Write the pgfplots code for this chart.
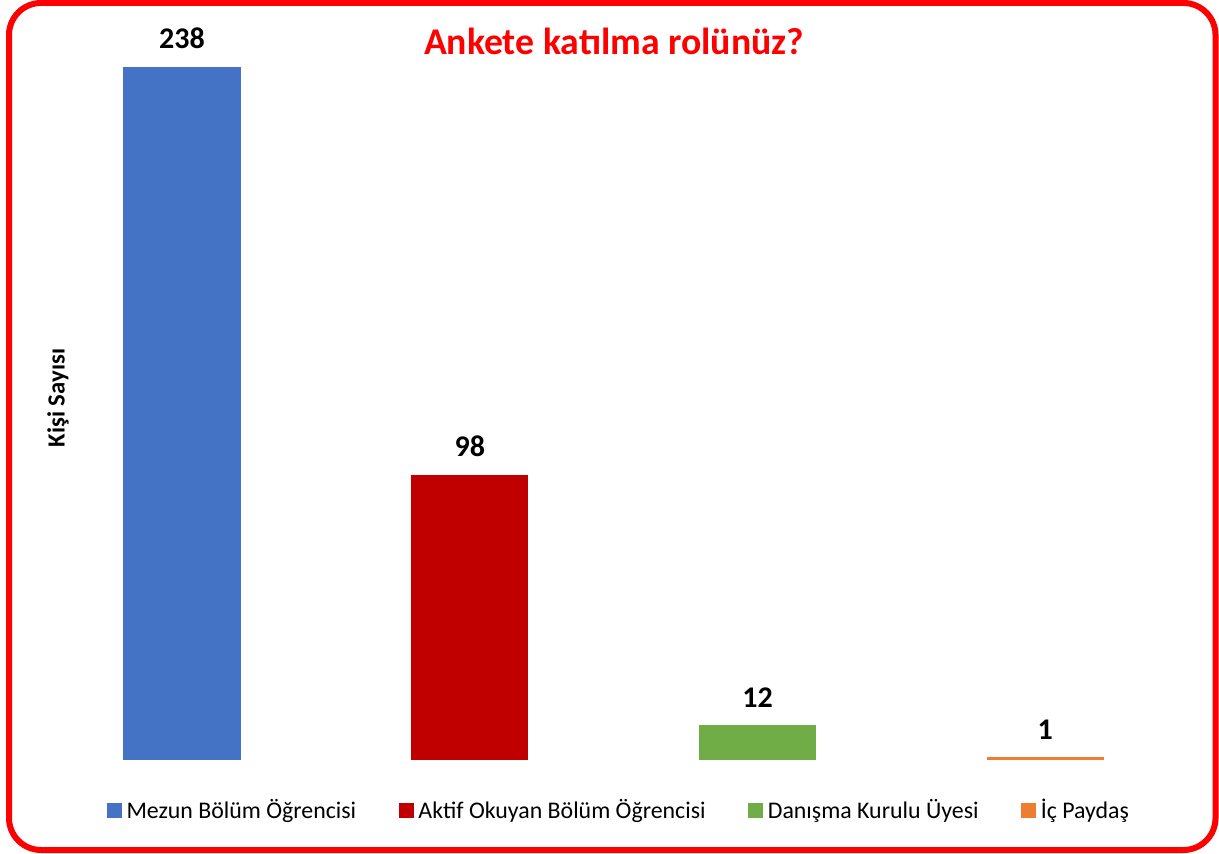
\documentclass[border=0pt]{standalone}
\usepackage{pgfplots}
\pgfplotsset{compat=1.18}
\usepackage{fontspec}
\setmainfont{Carlito}
\definecolor{cblue}{HTML}{4472C4}
\definecolor{cred}{HTML}{C00000}
\definecolor{cgreen}{HTML}{70AD47}
\definecolor{corange}{HTML}{ED7D31}
\definecolor{bred}{HTML}{FF0000}
\begin{document}
\begin{tikzpicture}[x=0.75pt,y=0.75pt]
\useasboundingbox (0,0) rectangle (1219,853);
\draw[bred, line width=4.5pt, rounded corners=24pt] (9,3) rectangle (1215.5,850);
\node[text=bred, font=\fontsize{28.3}{33}\selectfont\bfseries, anchor=base] at (614,798) {Ankete katılma rolünüz?};
\begin{axis}[
  at={(17.824pt,69.75pt)}, anchor=south west,
  scale only axis,
  x=215.8pt, y=2.184pt,
  xmin=-0.55, xmax=3.55, ymin=0, ymax=245,
  axis line style={draw=none},
  ticks=none,
  /pgf/number format/assume math mode=true,
  ybar=0pt, bar shift=0pt, bar width=0.407,
  clip=false,
  nodes near coords,
  every node near coord/.append style={font=\fontsize{22.5}{26}\selectfont\bfseries, text=black, inner sep=0pt, anchor=base, yshift=13.5pt},
  ylabel={Kişi Sayısı},
  ylabel style={at={(axis cs:-0.431,124.3)}, anchor=center, font=\fontsize{18.5}{22}\selectfont\bfseries},
  legend columns=4,
  legend style={draw=none, fill=none, at={(axis cs:1.515,-17.2)}, anchor=center,
    font=\fontsize{17.9}{21}\selectfont,
    nodes={inner sep=0pt},
    /tikz/every odd column/.append style={column sep=3.5pt},
    /tikz/every even column/.append style={column sep=32pt}},
  legend image code/.code={\fill[#1,draw=none] (0pt,-5.6pt) rectangle (11.2pt,5.6pt);},
]
\addplot[fill=cblue, draw=none, bar shift=0pt] coordinates {(0,238)};
\addplot[fill=cred, draw=none, bar shift=0pt] coordinates {(1,98)};
\addplot[fill=cgreen, draw=none, bar shift=0pt] coordinates {(2,12)};
\addplot[fill=corange, draw=none, bar shift=0pt] coordinates {(3,1)};
\legend{Mezun Bölüm Öğrencisi, Aktif Okuyan Bölüm Öğrencisi, Danışma Kurulu Üyesi, İç Paydaş}
\end{axis}
\end{tikzpicture}
\end{document}
